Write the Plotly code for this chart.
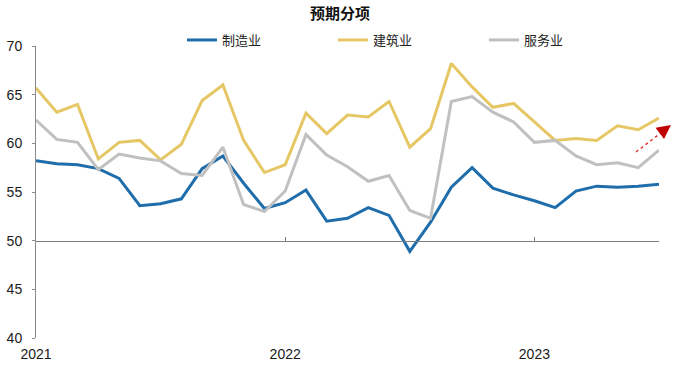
import plotly.graph_objects as go

months = list(range(31))  # Jan 2021 .. Jul 2023
tick_pos = [0, 12, 24]
tick_labels = ["2021", "2022", "2023"]

manufacturing = [58.2, 57.9, 57.8, 57.4, 56.4, 53.6, 53.8, 54.3, 57.4, 58.7,
                 55.9, 53.3, 53.9, 55.2, 52.0, 52.3, 53.4, 52.6, 48.9, 51.9,
                 55.5, 57.5, 55.4, 54.7, 54.1, 53.4, 55.1, 55.6, 55.5, 55.6, 55.8]
construction = [65.7, 63.2, 64.0, 58.4, 60.1, 60.3, 58.3, 59.9, 64.4, 66.0,
                60.3, 57.0, 57.8, 63.1, 61.0, 62.9, 62.7, 64.3, 59.6, 61.5,
                68.2, 65.8, 63.7, 64.1, 62.2, 60.3, 60.5, 60.3, 61.8, 61.4, 62.6]
services = [62.4, 60.4, 60.1, 57.3, 58.9, 58.5, 58.2, 56.9, 56.7, 59.6,
            53.7, 53.0, 55.1, 60.9, 58.8, 57.6, 56.1, 56.7, 53.1, 52.3,
            64.3, 64.8, 63.2, 62.2, 60.1, 60.3, 58.7, 57.8, 58.0, 57.5, 59.3]

names = ["制造业", "建筑业", "服务业"]
colors = ["#1F6EAB", "#E6C765", "#C0C0C0"]

fig = go.Figure()
for name, vals, col in zip(names, [manufacturing, construction, services], colors):
    fig.add_trace(go.Scatter(x=months, y=vals, mode="lines", name=name,
                             line=dict(color=col, width=3)))

# invisible helper trace for the axis crossing at 50
fig.add_trace(go.Scatter(x=[None], y=[None], xaxis="x2", showlegend=False,
                         hoverinfo="skip"))

cjk = "Noto Sans CJK SC"
fig.update_layout(
    width=680, height=370,
    margin=dict(l=36, r=21, t=46, b=32, autoexpand=False),
    paper_bgcolor="white", plot_bgcolor="white",
    font=dict(family="Liberation Sans, Arial", size=14, color="#1a1a1a"),
    title=dict(text="<b>预期分项</b>", x=0.5, xref="container", y=1 - 14 / 370,
               yref="container", xanchor="center", yanchor="middle",
               font=dict(family=cjk, size=15, color="#111")),
    legend=dict(orientation="h", xref="container", yref="container",
                x=182 / 680, y=1 - 40 / 370, xanchor="left", yanchor="middle",
                entrywidth=106, entrywidthmode="pixels",
                font=dict(family=cjk, size=13, color="#222"),
                bgcolor="rgba(0,0,0,0)"),
    xaxis=dict(range=[0, 30], tickvals=tick_pos, ticktext=tick_labels,
               showline=False, showgrid=False, zeroline=False, ticks="",
               ticklabelstandoff=6, tickfont=dict(size=14)),
    xaxis2=dict(range=[0, 30], overlaying="x", anchor="free", position=1 / 3,
                showline=True, linecolor="#7f7f7f", linewidth=1,
                ticks="inside", ticklen=4, tickcolor="#7f7f7f",
                tickvals=[12, 24], showticklabels=False, showgrid=False,
                zeroline=False),
    yaxis=dict(range=[40, 70], dtick=5, showline=True, linecolor="#8a8a8a",
               linewidth=1, ticks="outside", ticklen=3, tickcolor="#8a8a8a",
               showgrid=False, zeroline=False, tickfont=dict(size=14),
               ticklabelstandoff=7),
    showlegend=True,
)

# red dotted trend arrow
fig.add_shape(type="line", xref="paper", yref="paper",
              x0=(636 - 36) / 623, y0=(338 - 152) / 292,
              x1=(666 - 36) / 623, y1=(338 - 129) / 292,
              line=dict(color="#E03C3C", width=1.5, dash="dot"))
fig.add_annotation(xref="paper", yref="paper",
                   x=(671 - 36) / 623, y=(338 - 125) / 292,
                   ax=-8, ay=6, showarrow=True, arrowhead=2, arrowsize=1.4,
                   arrowwidth=2, arrowcolor="#C00000", text="")

fig.write_html("out.html",
               config={"displayModeBar": False},
               post_script="document.body.style.margin='0';"
                           "document.body.style.padding='0';")
